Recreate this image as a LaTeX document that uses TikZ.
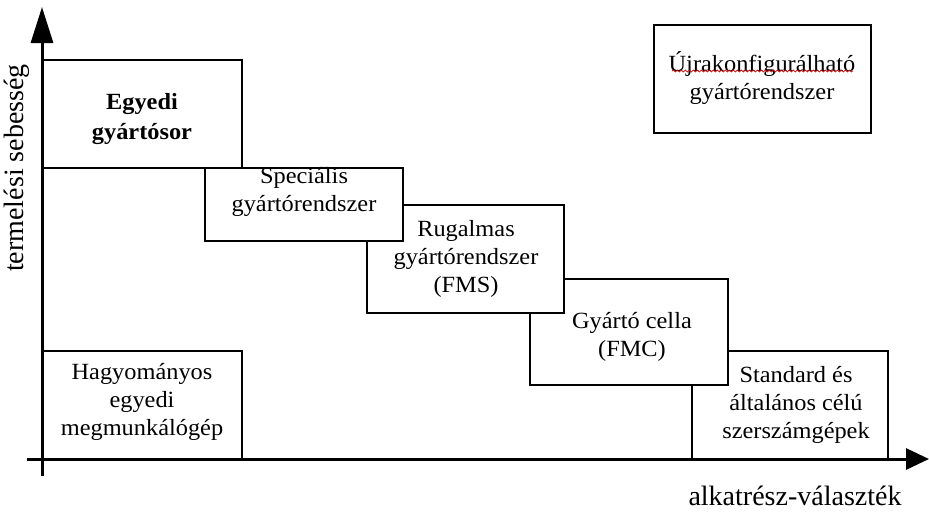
\documentclass[tikz,border=0pt]{standalone}
\usepackage{fontspec}
\setmainfont{Liberation Serif}
\newfontfamily\boxfont[FakeStretch=1.05]{Liberation Serif}
\usetikzlibrary{arrows.meta,decorations.pathmorphing}
\begin{document}
\begin{tikzpicture}[x=1pt,y=-1pt,
  box/.style={draw=black,line width=2pt,fill=white,inner sep=0pt},
  txt/.style={align=center,inner sep=0pt,font=\boxfont\fontsize{23.2}{28}\selectfont},
  axis/.style={line width=3pt},
  axlabel/.style={inner sep=0pt,font=\fontsize{28}{32}\selectfont}]
\useasboundingbox (0,0) rectangle (929,514);
% boxes (lower ones first, so the upper ones lie on top)
\node[box,minimum width=196pt,minimum height=108pt] (b5) at (790,405) {};
\node[txt] (t5) at (796,405) {Standard és\\általános célú\\szerszámgépek};
\node[box,minimum width=198pt,minimum height=106pt] (b4) at (629,332) {};
\node[txt] (t4) at (632,337) {Gyártó cella\\(FMC)};
\node[box,minimum width=197pt,minimum height=108pt] (b3) at (465.5,259) {};
\node[txt] (t3) at (466,259) {Rugalmas\\gyártórendszer\\(FMS)};
\node[box,minimum width=198pt,minimum height=73pt] (b2) at (304,204.5) {};
\node[txt] (t2) at (304,192) {Speciális\\gyártórendszer};
\node[box,minimum width=200pt,minimum height=108pt] (b1) at (142,114) {};
\node[txt,font=\boxfont\fontsize{23.2}{30}\selectfont\bfseries] (t1) at (142,119) {Egyedi\\gyártósor};
\node[box,minimum width=200pt,minimum height=108pt] (b6) at (142,405) {};
\node[txt] (t6) at (142,402) {Hagyományos\\egyedi\\megmunkálógép};
\node[box,minimum width=217pt,minimum height=108pt] (b7) at (762.5,79) {};
\node[txt] (t7) at (762,78) {Újrakonfigurálható\\gyártórendszer};
\coordinate (sqA) at (672,71);
\coordinate (sqB) at (853,71);
\draw[red!85!black,line width=0.7pt,decorate,decoration={snake,amplitude=1pt,segment length=4pt}] (sqA) -- (sqB);
% axes
\coordinate (yb) at (42,476);
\coordinate (yt) at (42,7);
\coordinate (xl) at (27,459);
\coordinate (xr) at (929,459);
\draw[axis,-{Triangle[length=36pt,width=22pt]}] (yb) -- (yt);
\draw[axis,-{Triangle[length=23pt,width=21pt]}] (xl) -- (xr);
\node[axlabel,rotate=90] (ylab) at (17,168) {termelési sebesség};
\node[axlabel] (xlab) at (795,496) {alkatrész-választék};
\end{tikzpicture}
\end{document}
